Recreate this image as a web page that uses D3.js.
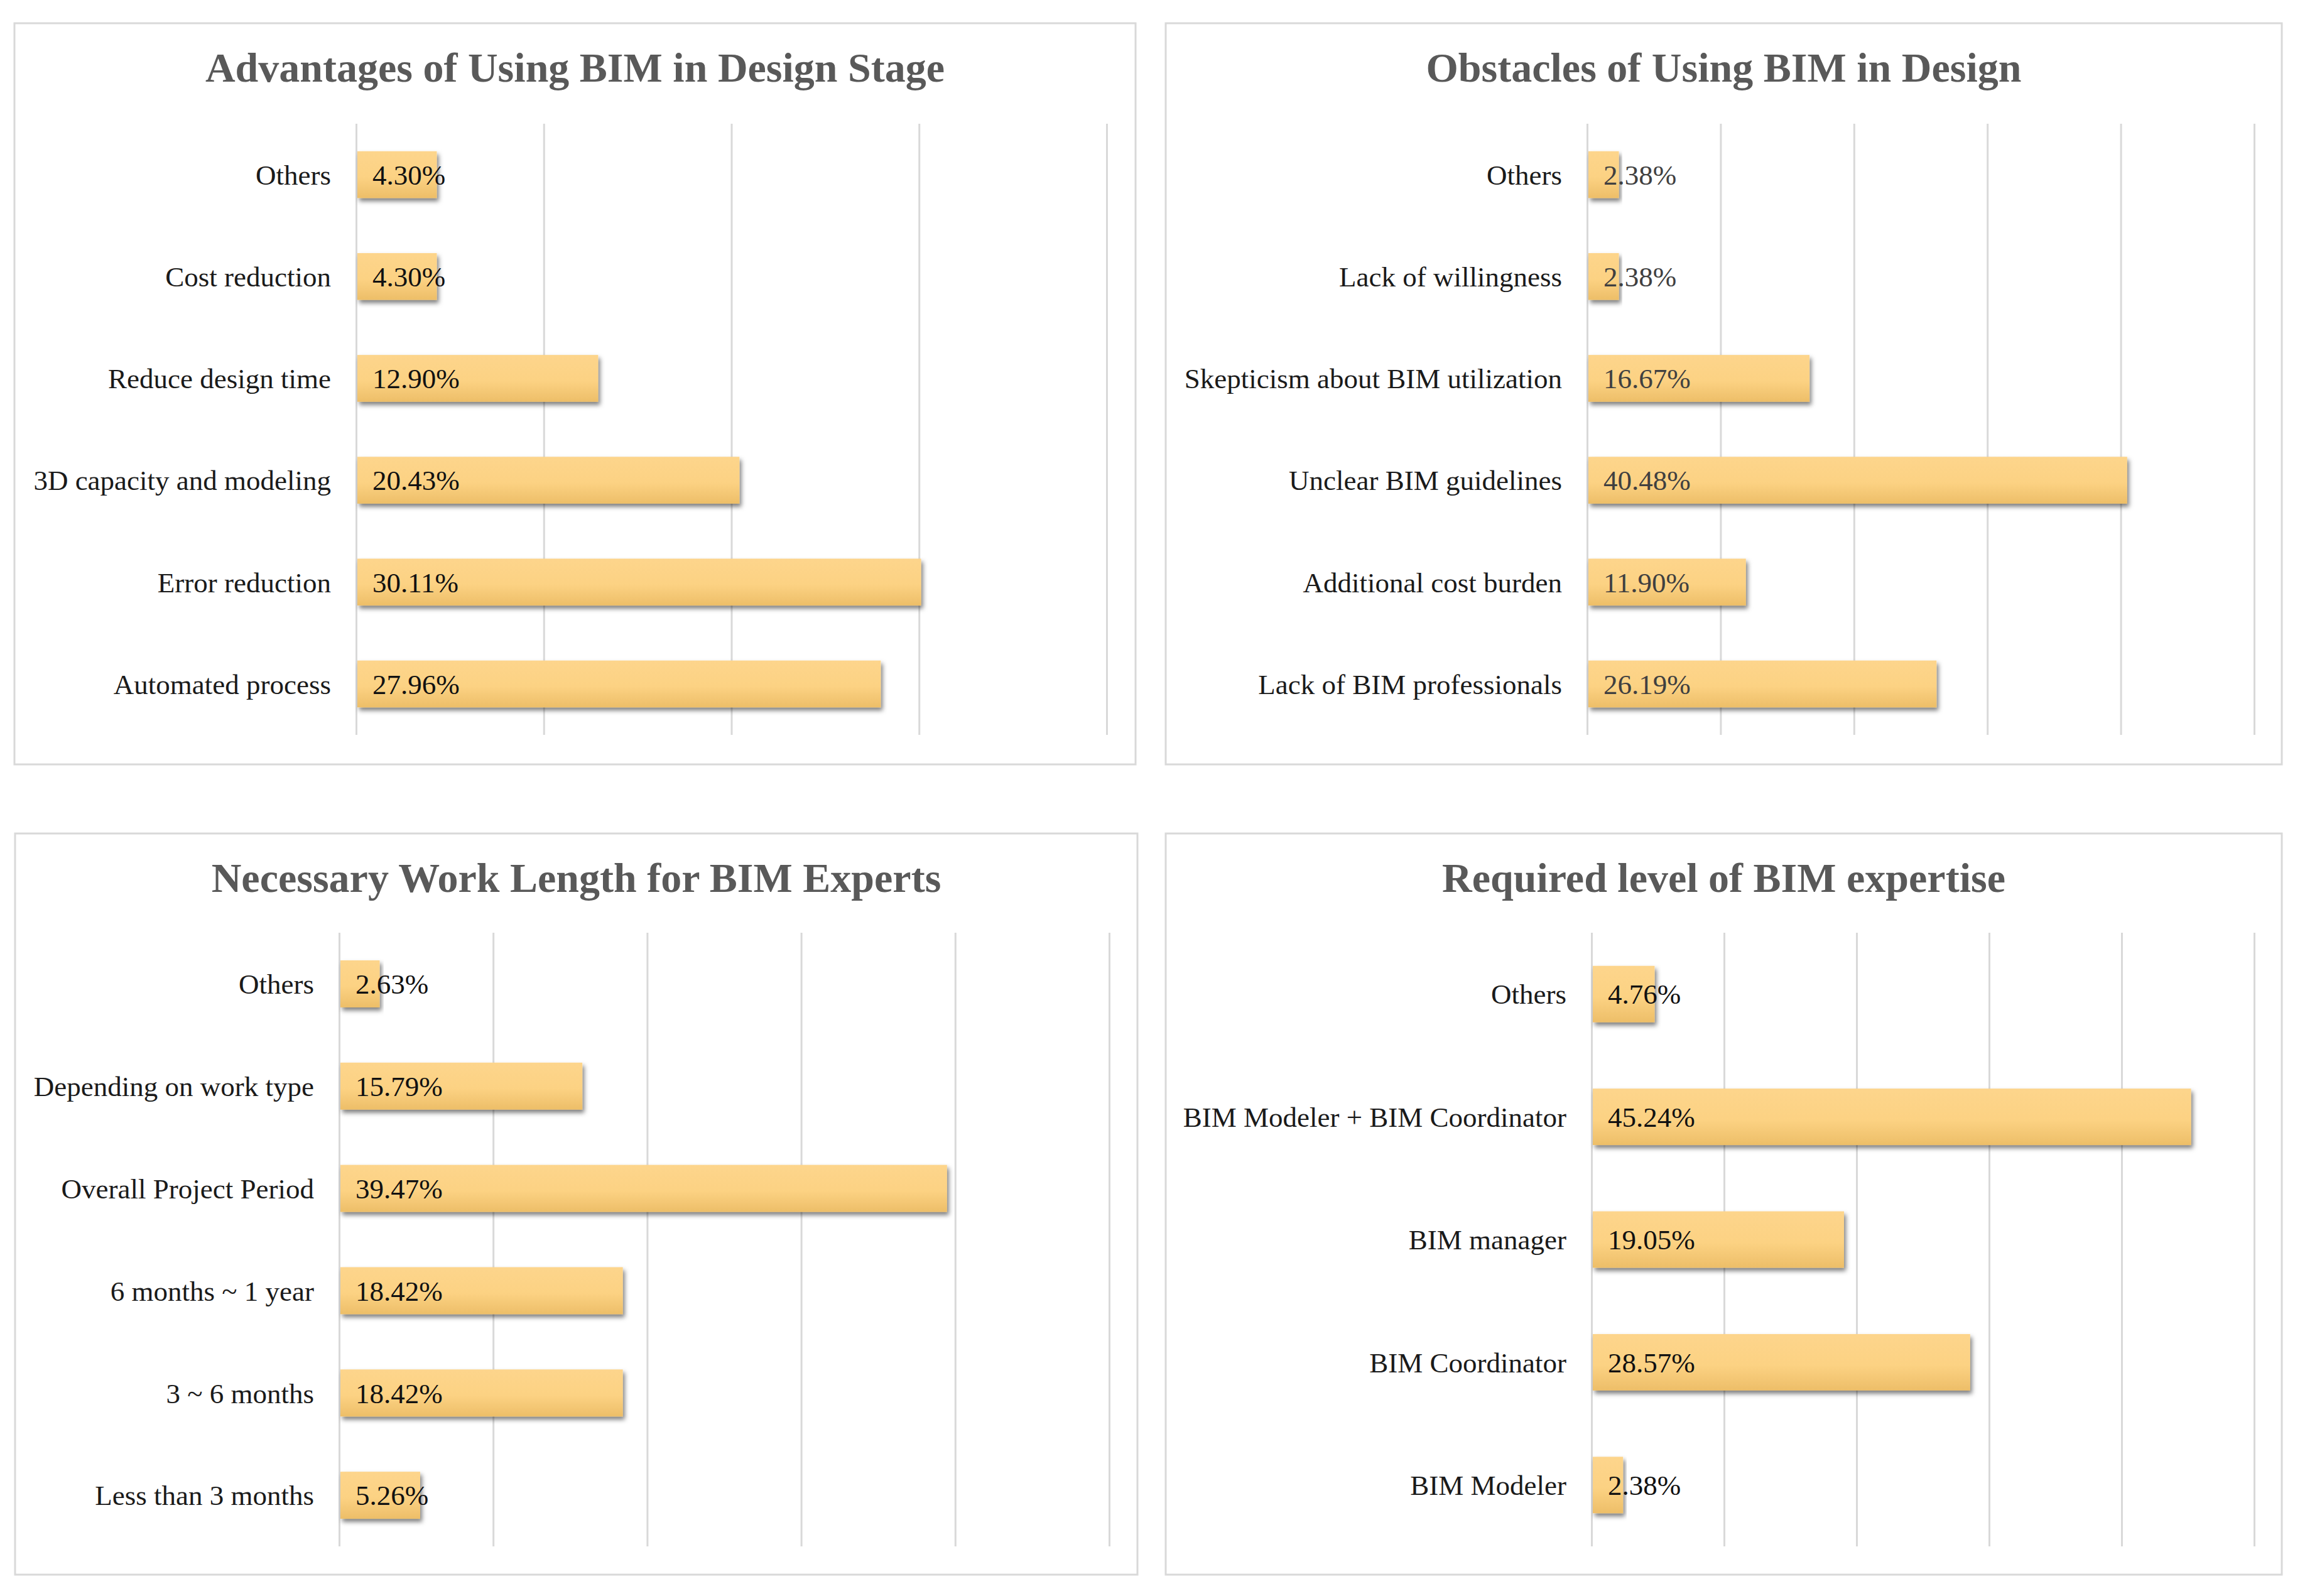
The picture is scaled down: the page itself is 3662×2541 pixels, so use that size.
<!DOCTYPE html>
<html>
<head>
<meta charset="utf-8">
<script src="https://cdn.jsdelivr.net/npm/d3@7"></script>
<style>
  html, body { margin: 0; padding: 0; background: #ffffff; }
  svg { display: block; }
</style>
</head>
<body>
<svg id="chart" width="3662" height="2541"></svg>
<script>
// ---------------- data ----------------
const titles = [
  "Advantages of Using BIM in Design Stage",
  "Obstacles of Using BIM in Design",
  "Necessary Work Length for BIM Experts",
  "Required level of BIM expertise"
];

const advCategories = ["Others", "Cost reduction", "Reduce design time", "3D capacity and modeling", "Error reduction", "Automated process"];
const advValues = [4.30, 4.30, 12.90, 20.43, 30.11, 27.96];

const obsCategories = ["Others", "Lack of willingness", "Skepticism about BIM utilization", "Unclear BIM guidelines", "Additional cost burden", "Lack of BIM professionals"];
const obsValues = [2.38, 2.38, 16.67, 40.48, 11.90, 26.19];

const workCategories = ["Others", "Depending on work type", "Overall Project Period", "6 months ~ 1 year", "3 ~ 6 months", "Less than 3 months"];
const workValues = [2.63, 15.79, 39.47, 18.42, 18.42, 5.26];

const levelCategories = ["Others", "BIM Modeler + BIM Coordinator", "BIM manager", "BIM Coordinator", "BIM Modeler"];
const levelValues = [4.76, 45.24, 19.05, 28.57, 2.38];

const ticks40 = [0, 10, 20, 30, 40];
const ticks50 = [0, 10, 20, 30, 40, 50];

// ---------------- layout ----------------
const panels = [
  { title: titles[0], cats: advCategories, vals: advValues, ticks: ticks40,
    box: [23, 37, 1808, 1217], plot: [567, 197, 1762, 1170], valColor: "#111111" },
  { title: titles[1], cats: obsCategories, vals: obsValues, ticks: ticks50,
    box: [1856, 37, 3633, 1217], plot: [2527, 197, 3589, 1170], valColor: "#404040" },
  { title: titles[2], cats: workCategories, vals: workValues, ticks: ticks50,
    box: [24, 1327, 1811, 2507], plot: [540, 1485, 1766, 2462], valColor: "#111111" },
  { title: titles[3], cats: levelCategories, vals: levelValues, ticks: ticks50,
    box: [1856, 1327, 3633, 2507], plot: [2534, 1485, 3589, 2462], valColor: "#111111" }
];

const svg = d3.select("#chart");
const defs = svg.append("defs");

const grad = defs.append("linearGradient")
  .attr("id", "barGrad").attr("x1", 0).attr("y1", 0).attr("x2", 0).attr("y2", 1);
grad.append("stop").attr("offset", "0%").attr("stop-color", "#FDD58C");
grad.append("stop").attr("offset", "55%").attr("stop-color", "#FCD283");
grad.append("stop").attr("offset", "100%").attr("stop-color", "#EDBE68");

const shadow = defs.append("filter").attr("id", "shadow")
  .attr("x", "-5%").attr("y", "-20%").attr("width", "115%").attr("height", "160%");
shadow.append("feDropShadow")
  .attr("dx", 3).attr("dy", 5).attr("stdDeviation", 3.5)
  .attr("flood-color", "#000000").attr("flood-opacity", 0.5);

const font = "'Liberation Serif', 'Times New Roman', serif";

panels.forEach(p => {
  const g = svg.append("g");
  const [bx0, by0, bx1, by1] = p.box;
  const [px0, py0, px1, py1] = p.plot;

  g.append("rect")
    .attr("x", bx0).attr("y", by0)
    .attr("width", bx1 - bx0).attr("height", by1 - by0)
    .attr("fill", "#ffffff")
    .attr("stroke", "#D9D9D9").attr("stroke-width", 3);

  g.append("text")
    .attr("x", (bx0 + bx1) / 2).attr("y", by0 + 93)
    .attr("text-anchor", "middle")
    .attr("font-family", font).attr("font-weight", "bold")
    .attr("font-size", 66).attr("fill", "#595959")
    .text(p.title);

  const x = d3.scaleLinear()
    .domain([0, p.ticks[p.ticks.length - 1]])
    .range([px0, px1]);
  const y = d3.scaleBand()
    .domain(p.cats)
    .range([py0, py1])
    .paddingInner(0.54).paddingOuter(0.27);

  // gridlines via axis
  const gridAxis = d3.axisBottom(x).tickValues(p.ticks).tickSize(-(py1 - py0)).tickFormat("");
  const ga = g.append("g").attr("transform", `translate(0,${py1})`).call(gridAxis);
  ga.select(".domain").remove();
  ga.selectAll(".tick line").attr("stroke", "#D9D9D9").attr("stroke-width", 3);

  const data = p.cats.map((c, i) => ({ cat: c, val: p.vals[i] }));

  g.append("g").selectAll("rect")
    .data(data).join("rect")
    .attr("x", x(0) + 2)
    .attr("y", d => y(d.cat))
    .attr("width", d => x(d.val) - x(0) - 2)
    .attr("height", y.bandwidth())
    .attr("fill", "url(#barGrad)")
    .attr("filter", "url(#shadow)");

  // category labels
  g.append("g").selectAll("text")
    .data(data).join("text")
    .attr("x", x(0) - 40)
    .attr("y", d => y(d.cat) + y.bandwidth() / 2)
    .attr("dy", "0.35em")
    .attr("text-anchor", "end")
    .attr("font-family", font).attr("font-size", 45)
    .attr("fill", "#1a1a1a")
    .text(d => d.cat);

  // value labels
  g.append("g").selectAll("text")
    .data(data).join("text")
    .attr("x", x(0) + 26)
    .attr("y", d => y(d.cat) + y.bandwidth() / 2)
    .attr("dy", "0.35em")
    .attr("text-anchor", "start")
    .attr("font-family", font).attr("font-size", 45)
    .attr("fill", p.valColor)
    .text(d => d3.format(".2f")(d.val) + "%");
});
</script>
</body>
</html>
